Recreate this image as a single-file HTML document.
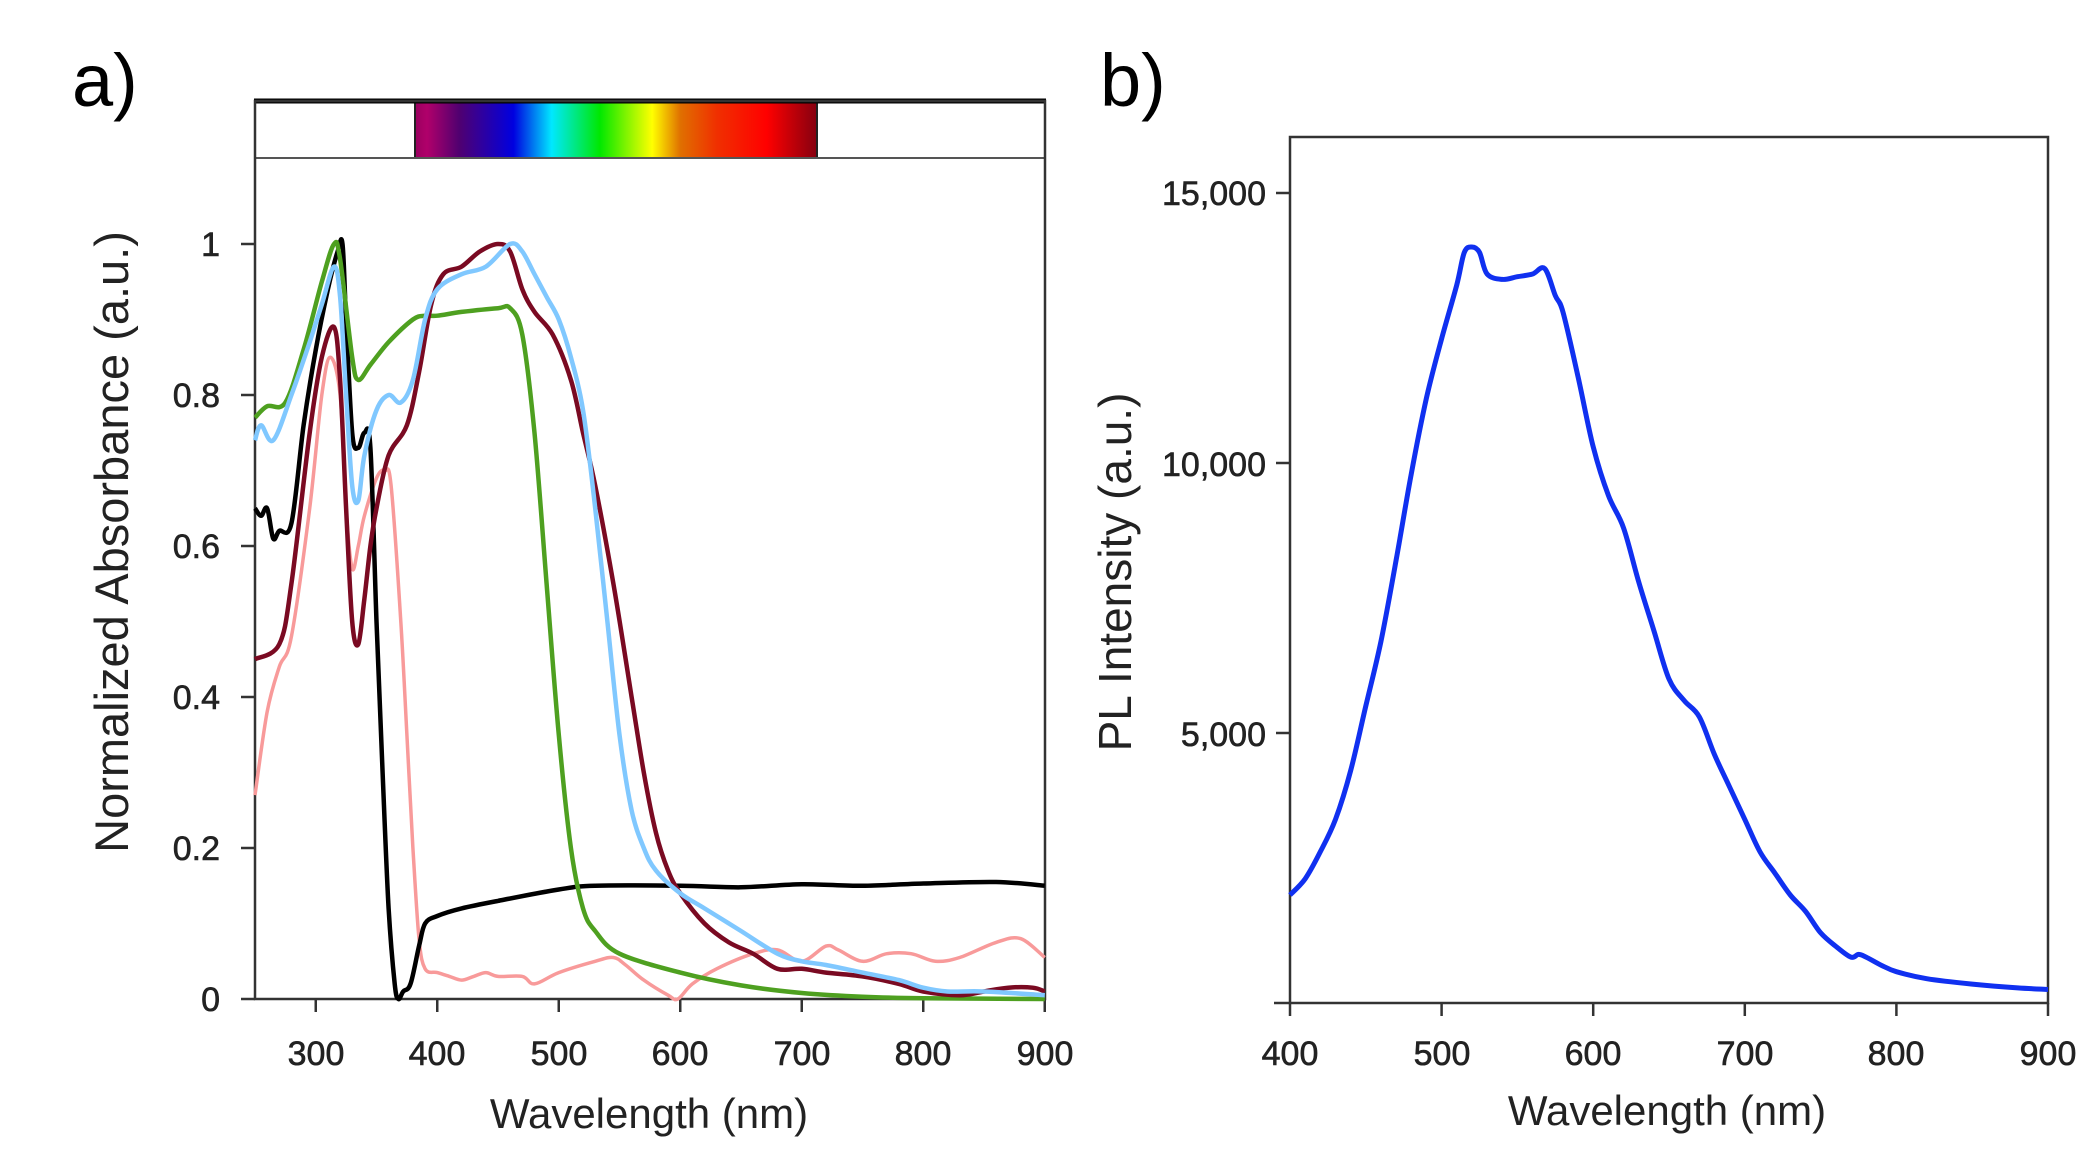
<!DOCTYPE html>
<html><head><meta charset="utf-8"><style>
html,body{margin:0;padding:0;background:#fff;}
svg{display:block;font-family:"Liberation Sans",Arial,sans-serif;}
</style></head><body>
<svg id="s" width="2092" height="1174" viewBox="0 0 2092 1174" xmlns="http://www.w3.org/2000/svg">
<defs>
<linearGradient id="spec" x1="0" x2="1" y1="0" y2="0">
<stop offset="0" stop-color="#9a0060"/>
<stop offset="0.03" stop-color="#b0006a"/>
<stop offset="0.11" stop-color="#500070"/>
<stop offset="0.245" stop-color="#0000e0"/>
<stop offset="0.34" stop-color="#00e8ff"/>
<stop offset="0.46" stop-color="#00e800"/>
<stop offset="0.59" stop-color="#ffff00"/>
<stop offset="0.66" stop-color="#e07000"/>
<stop offset="0.75" stop-color="#f03000"/>
<stop offset="0.875" stop-color="#ff0000"/>
<stop offset="1" stop-color="#850010"/>
</linearGradient>
</defs>
<text x="72" y="106" font-size="74">a)</text>
<rect x="415" y="101" width="402" height="57" fill="url(#spec)" stroke="#222" stroke-width="2"/>
<line x1="254" y1="101" x2="1046" y2="101" stroke="#000" stroke-width="5"/>
<line x1="255" y1="158" x2="1045" y2="158" stroke="#555" stroke-width="2"/>
<rect x="255" y="101" width="790" height="898" fill="none" stroke="#333" stroke-width="2.5"/>
<g id="ga"></g>
<g font-size="34" text-anchor="end" fill="#222" stroke="#222" stroke-width="0.6">
<text x="220" y="256">1</text>
<text x="220" y="407">0.8</text>
<text x="220" y="558">0.6</text>
<text x="220" y="709">0.4</text>
<text x="220" y="860">0.2</text>
<text x="220" y="1011">0</text>
</g>
<g font-size="34" text-anchor="middle" fill="#222" stroke="#222" stroke-width="0.6">
<text x="316" y="1065">300</text><text x="437" y="1065">400</text><text x="559" y="1065">500</text>
<text x="680" y="1065">600</text><text x="802" y="1065">700</text><text x="923" y="1065">800</text><text x="1045" y="1065">900</text>
</g>
<text x="649" y="1128" font-size="42" text-anchor="middle" fill="#222">Wavelength (nm)</text>
<text transform="translate(128,542) rotate(-90)" font-size="47" text-anchor="middle" fill="#222">Normalized Absorbance (a.u.)</text>
<text x="1100" y="106" font-size="74">b)</text>
<rect x="1290" y="137" width="758" height="866" fill="none" stroke="#333" stroke-width="2.5"/>
<line x1="1274" y1="1003" x2="1290" y2="1003" stroke="#333" stroke-width="2.5"/>
<g id="gb"></g>
<g font-size="34" text-anchor="end" fill="#222" stroke="#222" stroke-width="0.6">
<text x="1266" y="205">15,000</text><text x="1266" y="476">10,000</text><text x="1266" y="746">5,000</text>
</g>
<g font-size="34" text-anchor="middle" fill="#222" stroke="#222" stroke-width="0.6">
<text x="1290" y="1065">400</text><text x="1442" y="1065">500</text><text x="1593" y="1065">600</text>
<text x="1745" y="1065">700</text><text x="1896" y="1065">800</text><text x="2048" y="1065">900</text>
</g>
<text x="1667" y="1125" font-size="42" text-anchor="middle" fill="#222">Wavelength (nm)</text>
<text transform="translate(1131,572) rotate(-90)" font-size="46" text-anchor="middle" fill="#222">PL Intensity (a.u.)</text>
</svg>
<script>
var NS="http://www.w3.org/2000/svg";
function ax(w){return 255+(w-250)*121.5/100;}
function ay(v){return 999-v*755;}
function bx(w){return 1290+(w-400)*151.6/100;}
function by(v){return 1003-v*270/5000;}
function add(g,d,fx,fy,col,wd){
 var P=[];for(var i=0;i<d.length;i+=2)P.push([fx(d[i]),fy(d[i+1])]);
 var s="M"+P[0][0].toFixed(1)+","+P[0][1].toFixed(1);
 for(var i=0;i<P.length-1;i++){
  var p0=P[Math.max(i-1,0)],p1=P[i],p2=P[i+1],p3=P[Math.min(i+2,P.length-1)];
  var c1=[p1[0]+(p2[0]-p0[0])/6,p1[1]+(p2[1]-p0[1])/6];
  var c2=[p2[0]-(p3[0]-p1[0])/6,p2[1]-(p3[1]-p1[1])/6];
  s+=" C"+c1[0].toFixed(1)+","+c1[1].toFixed(1)+" "+c2[0].toFixed(1)+","+c2[1].toFixed(1)+" "+p2[0].toFixed(1)+","+p2[1].toFixed(1);
 }
 var p=document.createElementNS(NS,"path");
 p.setAttribute("d",s);p.setAttribute("fill","none");p.setAttribute("stroke",col);
 p.setAttribute("stroke-width",wd);p.setAttribute("stroke-linejoin","round");
 document.getElementById(g).appendChild(p);}
function line(g,x1,y1,x2,y2){var l=document.createElementNS(NS,"line");
 l.setAttribute("x1",x1);l.setAttribute("y1",y1);l.setAttribute("x2",x2);l.setAttribute("y2",y2);
 l.setAttribute("stroke","#333");l.setAttribute("stroke-width","2.5");document.getElementById(g).appendChild(l);}
[0,0.2,0.4,0.6,0.8,1].forEach(function(v){line("ga",241,ay(v),255,ay(v));});
[300,400,500,600,700,800,900].forEach(function(w){line("ga",ax(w),999,ax(w),1012);});
[5000,10000,15000].forEach(function(v){line("gb",1276,by(v),1290,by(v));});
[400,500,600,700,800,900].forEach(function(w){line("gb",bx(w),1003,bx(w),1016);});
var pink=[250,.27,260,.38,270,.44,280,.48,295,.65,305,.8,312,.85,320,.8,325,.65,330,.57,335,.6,340,.64,350,.69,357,.7,362,.68,370,.5,375,.35,380,.2,385,.08,390,.04,400,.035,410,.03,420,.025,430,.03,440,.035,450,.03,470,.03,480,.02,500,.035,530,.05,545,.055,555,.045,570,.025,590,.005,598,0,610,.02,630,.04,660,.06,680,.065,700,.05,720,.07,730,.065,750,.05,770,.06,790,.06,810,.05,830,.055,860,.075,880,.08,900,.055];
var black=[250,.65,255,.64,260,.65,265,.61,270,.62,280,.63,290,.76,300,.86,310,.94,318,.99,322,1.0,325,.9,330,.75,335,.73,340,.75,345,.73,350,.5,355,.3,360,.12,365,.02,368,0,372,.01,378,.02,385,.07,390,.1,400,.11,420,.12,450,.13,500,.145,530,.15,600,.15,650,.148,700,.152,750,.15,800,.153,860,.155,900,.15];
var green=[250,.77,260,.785,275,.79,290,.86,305,.95,315,1.0,320,.98,330,.85,335,.82,345,.84,360,.87,380,.9,390,.905,400,.905,420,.91,450,.915,460,.915,470,.88,480,.75,490,.55,500,.35,510,.2,520,.12,530,.09,550,.06,600,.035,650,.018,700,.008,750,.003,800,.001,900,0];
var blue=[250,.74,255,.76,265,.74,280,.8,295,.87,305,.92,315,.97,320,.93,325,.8,330,.68,335,.66,340,.72,350,.78,360,.8,370,.79,380,.82,390,.9,400,.94,420,.96,440,.97,460,1.0,470,.99,480,.96,490,.93,500,.9,510,.85,520,.78,530,.65,540,.5,550,.35,560,.25,570,.2,580,.17,600,.14,620,.12,650,.09,680,.06,700,.05,720,.045,750,.035,780,.025,800,.015,820,.01,850,.01,900,.005];
var dred=[250,.45,270,.47,280,.55,295,.75,305,.85,315,.89,320,.82,325,.65,330,.5,335,.47,340,.53,345,.6,350,.65,360,.72,375,.76,385,.83,395,.92,405,.96,420,.97,435,.99,450,1.0,460,.99,470,.94,480,.91,495,.88,510,.82,520,.75,530,.68,545,.55,560,.4,570,.3,580,.22,590,.17,600,.14,620,.1,640,.075,660,.06,680,.04,700,.04,720,.035,750,.03,780,.02,800,.01,830,.005,850,.01,870,.015,890,.015,900,.01];
add("ga",pink,ax,ay,"#f89a9a",3.5);
add("ga",black,ax,ay,"#000",4.5);
add("ga",green,ax,ay,"#4ea020",4.5);
add("ga",dred,ax,ay,"#7a0a22",4.5);
add("ga",blue,ax,ay,"#80c8ff",4.5);
var pl=[400,2000,410,2300,420,2800,430,3400,440,4300,450,5500,460,6700,470,8200,480,9800,490,11200,500,12300,510,13300,515,13900,520,14000,525,13900,530,13500,540,13400,550,13450,560,13500,568,13600,575,13100,580,12800,590,11600,600,10300,610,9400,620,8800,630,7800,640,6900,650,6000,660,5600,670,5300,680,4600,690,4000,700,3400,710,2800,720,2400,730,2000,740,1700,750,1300,760,1050,770,850,775,900,780,850,790,700,800,580,820,450,850,350,880,280,900,250];
add("gb",pl,bx,by,"#1030f0",5);
</script>
</body></html>
